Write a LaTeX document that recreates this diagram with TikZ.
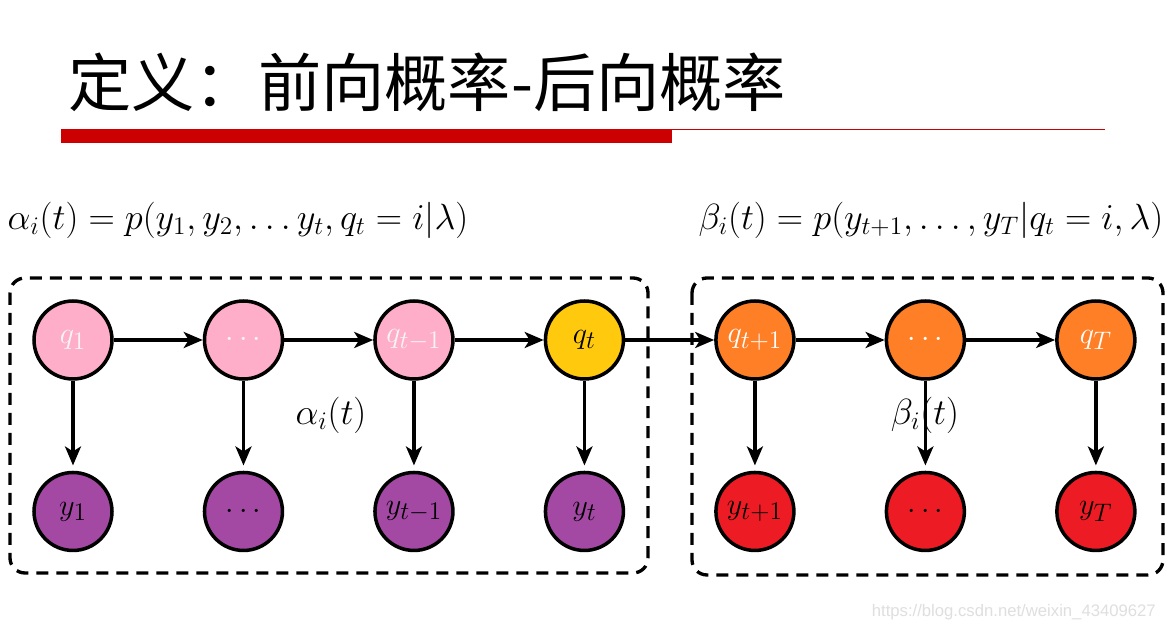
\documentclass[tikz,border=0pt]{standalone}
\usepackage{fontspec}
\newfontfamily\cjk{Noto Sans CJK SC}
\newfontfamily\markfont{Liberation Sans}
\usetikzlibrary{arrows.meta}
\usetikzlibrary{positioning}

\definecolor{qpink}{HTML}{FFAEC9}
\definecolor{qgold}{HTML}{FFC90E}
\definecolor{qorange}{HTML}{FF7F27}
\definecolor{ypurple}{HTML}{A349A4}
\definecolor{yred}{HTML}{ED1C24}
\definecolor{barred}{HTML}{CC0000}

\begin{document}
\begin{tikzpicture}[x=0.02cm,y=-0.02cm,
  state/.style={circle,draw=black,line width=2pt,minimum size=1.56cm,inner sep=0pt,font=\fontsize{19}{22}\selectfont},
  link/.style={line width=1.9pt,-{Stealth[length=0.38cm,width=0.32cm,inset=0.1cm]}},
  box/.style={line width=1.9pt,dash pattern=on 0.24cm off 0.16cm,rounded corners=0.3cm}]
\fill[white] (0,0) rectangle (1171,631);
\useasboundingbox (0,0) rectangle (1171,631);

% title and bar
\node[anchor=west,inner sep=0pt] (title) at (68,82) {\cjk\fontsize{36}{40}\selectfont 定义：前向概率-后向概率};
\fill[barred] (61,129) rectangle (672,143);
\draw[barred,line width=0.6pt] (672,129.5) -- (1105,129.5);

% definitions
\node[font=\fontsize{19.5}{24}\selectfont] (alphadef) at (238,220) {$\alpha_i(t) = p(y_1, y_2, \ldots y_t, q_t = i|\lambda)$};
\node[font=\fontsize{19.5}{24}\selectfont] (betadef) at (931,220) {$\beta_i(t) = p(y_{t+1}, \ldots, y_T|q_t = i, \lambda)$};

% dashed boxes
\draw[box] (10,278) rectangle (648,573);
\draw[box] (692,278) rectangle (1163,575);

% hidden states
\node[state,fill=qpink,text=white!92!gray] (q1) at (73,340) {$q_1$};
\node[state,fill=qpink,text=white!92!gray,right=1.78cm of q1] (qa) {$\cdots$};
\node[state,fill=qpink,text=white!92!gray,right=1.78cm of qa] (qtm) {$q_{t-1}$};
\node[state,fill=qgold,right=1.78cm of qtm] (qt) {$q_t$};
\node[state,fill=qorange,text=white,right=1.78cm of qt] (qtp) {$q_{t+1}$};
\node[state,fill=qorange,text=white,right=1.78cm of qtp] (qb) {$\cdots$};
\node[state,fill=qorange,text=white,right=1.78cm of qb] (qT) {$q_T$};

% observations
\node[state,fill=ypurple,below=1.8cm of q1] (y1) {$y_1$};
\node[state,fill=ypurple,below=1.8cm of qa] (ya) {$\cdots$};
\node[state,fill=ypurple,below=1.8cm of qtm] (ytm) {$y_{t-1}$};
\node[state,fill=ypurple,below=1.8cm of qt] (yt) {$y_t$};
\node[state,fill=yred,below=1.8cm of qtp] (ytp) {$y_{t+1}$};
\node[state,fill=yred,below=1.8cm of qb] (yb) {$\cdots$};
\node[state,fill=yred,below=1.8cm of qT] (yT) {$y_T$};

% transitions
\draw[link] (q1) -- (qa);
\draw[link] (qa) -- (qtm);
\draw[link] (qtm) -- (qt);
\draw[link] (qt) -- (qtp);
\draw[link] (qtp) -- (qb);
\draw[link] (qb) -- (qT);

% emissions
\draw[link,shorten >=3pt] (q1) -- (y1);
\draw[link,shorten >=3pt] (qa) -- (ya);
\draw[link,shorten >=3pt] (qtm) -- (ytm);
\draw[link,shorten >=3pt] (qt) -- (yt);
\draw[link,shorten >=3pt] (qtp) -- (ytp);
\draw[link,shorten >=3pt] (qb) -- (yb);
\draw[link,shorten >=3pt] (qT) -- (yT);

\node[font=\fontsize{20}{24}\selectfont] (alphalab) at (331,415) {$\alpha_i(t)$};
\node[font=\fontsize{20}{24}\selectfont] (betalab) at (925,415) {$\beta_i(t)$};

\node[anchor=east,text=gray!25,font=\markfont\fontsize{9.5}{12}\selectfont] (mark) at (1162,612) {https://blog.csdn.net/weixin\_43409627};
\end{tikzpicture}
\end{document}
